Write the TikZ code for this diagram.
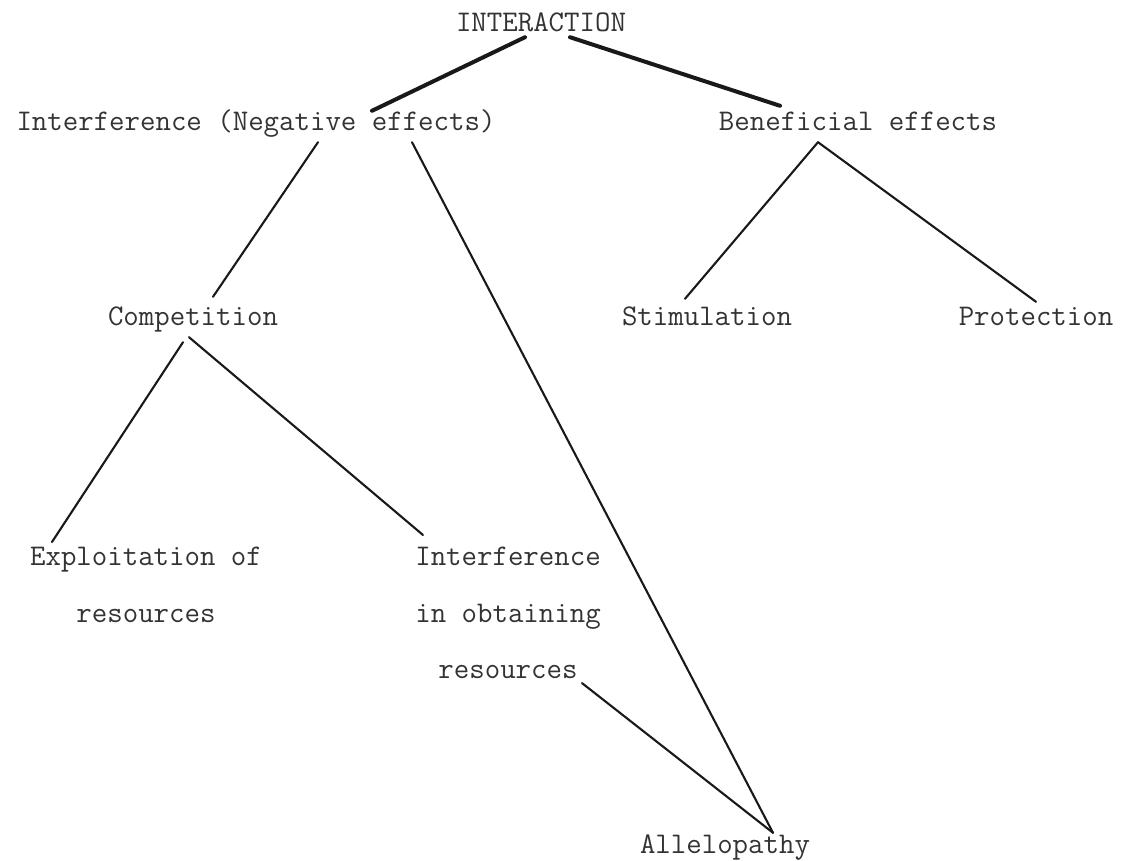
\documentclass[tikz,border=0pt]{standalone}
\usepackage{tikz}

\tikzset{
  word/.style={font=\fontsize{30}{56.5}\selectfont\ttfamily, text=black!80,
    inner sep=0pt, text height=20pt, text depth=9pt, anchor=base},
  words/.style={font=\fontsize{30}{56.5}\selectfont\ttfamily, text=black!80,
    inner sep=0pt, align=center, anchor=north},
  link/.style={line width=2.1pt, black!90, line cap=round},
  mainlink/.style={line width=4pt, black!90, line cap=round}
}

\begin{document}
\begin{tikzpicture}[x=1pt,y=-1pt]
        \useasboundingbox (0,0) rectangle (1122,861);

        % the terms
        \node[word] (top)  at (541,32)  {INTERACTION};
        \node[word] (neg)  at (256,131) {Interference (Negative effects)};
        \node[word] (ben)  at (858,131) {Beneficial effects};
        \node[word] (comp) at (193,325) {Competition};
        \node[word] (stim) at (707,325) {Stimulation};
        \node[word] (prot) at (1036,325) {Protection};
        \node[words] (expl) at (146,547) {Exploitation of\\resources};
        \node[words] (intf) at (508,547) {Interference\\in obtaining\\resources};
        \node[word] (alle) at (725,853) {Allelopathy};

        % first split
        \draw[mainlink] ([xshift=-16,yshift=4]top.south) -- ([xshift=116]neg.north);
        \draw[mainlink] ([xshift=29,yshift=4]top.south) -- ([xshift=-78,yshift=5]ben.north);

        % negative side
        \draw[link] ([xshift=62,yshift=-2]neg.south) -- ([xshift=20,yshift=8]comp.north);
        \draw[link] ([xshift=156,yshift=-2]neg.south) -- ([xshift=48]alle.north);
        \draw[link] ([xshift=-10,yshift=-8]comp.south) -- ([xshift=-94,yshift=5]expl.north);
        \draw[link] ([xshift=-4,yshift=-3]comp.south) -- ([xshift=-85,yshift=12]intf.north);
        \draw[link] ([xshift=74,yshift=-4]intf.south) -- ([xshift=48]alle.north);

        % beneficial side
        \draw[link] ([xshift=-40,yshift=-2]ben.south) -- ([xshift=-22,yshift=6]stim.north);
        \draw[link] ([xshift=-40,yshift=-2]ben.south) -- ([yshift=3]prot.north);
\end{tikzpicture}
\end{document}
